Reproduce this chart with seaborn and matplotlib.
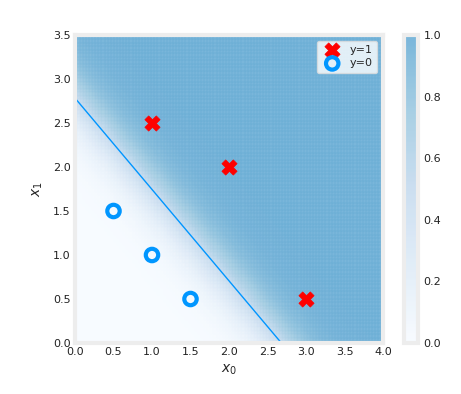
import numpy as np
import matplotlib
matplotlib.use("Agg")
import matplotlib.pyplot as plt
import matplotlib.colors as mcolors
import seaborn as sns
import pandas as pd

# ---- data ----
x0_pos = [1.0, 2.0, 3.0]
x1_pos = [2.5, 2.0, 0.5]
x0_neg = [0.5, 1.0, 1.5]
x1_neg = [1.5, 1.0, 0.5]
w = [4.60, 4.43]
b = -12.33
xticks = [0.0, 0.5, 1.0, 1.5, 2.0, 2.5, 3.0, 3.5, 4.0]
yticks = [0.0, 0.5, 1.0, 1.5, 2.0, 2.5, 3.0, 3.5]
cbticks = [0.0, 0.2, 0.4, 0.6, 0.8, 1.0]

sns.set_style("white")
plt.rcParams['font.family'] = ['DejaVu Sans']

dlblue = '#0096ff'
frame = '#ededed'

fig = plt.figure(figsize=(4.61, 3.94), dpi=100)
W, H = 461, 394
ax = fig.add_axes([75 / W, (H - 343) / H, 308 / W, 308 / H])
cax = fig.add_axes([404 / W, (H - 343) / H, 14 / W, 308 / H])

# probability shading
x0_space = np.linspace(0, 4, 100)
x1_space = np.linspace(0, 4, 100)
g0, g1 = np.meshgrid(x0_space, x1_space)
z = 1 / (1 + np.exp(-(w[0] * g0 + w[1] * g1 + b)))
base = plt.get_cmap('Blues')
cmap = mcolors.LinearSegmentedColormap.from_list('tb', base(np.linspace(0.0, 0.5, 100)))
pcm = ax.pcolormesh(g0, g1, z, norm=mcolors.Normalize(vmin=0, vmax=1),
                    cmap=cmap, shading='nearest', alpha=0.9,
                    edgecolors='face', linewidth=0.3, antialiased=True)
cb = fig.colorbar(pcm, cax=cax)
cb.set_ticks(cbticks)
cb.outline.set_edgecolor(frame)
cb.outline.set_linewidth(3)
cax.tick_params(length=0, labelsize=8, pad=4, colors='#222222')

# decision boundary
bx = [0, -b / w[0]]
by = [-b / w[1], 0]
sns.lineplot(x=bx, y=by, ax=ax, color=dlblue, lw=1, sort=False)

# data points
df_pos = pd.DataFrame({'x0': x0_pos, 'x1': x1_pos})
df_neg = pd.DataFrame({'x0': x0_neg, 'x1': x1_neg})
sns.scatterplot(data=df_pos, x='x0', y='x1', ax=ax, marker='X', s=120,
                color='red', edgecolor='red', linewidth=0.5, label='y=1', zorder=5)
sns.scatterplot(data=df_neg, x='x0', y='x1', ax=ax, marker='o', s=80,
                facecolors='none', edgecolor=dlblue, linewidth=3, label='y=0', zorder=5)

ax.set_xlim(0, 4)
ax.set_ylim(0, 3.5)
ax.set_xticks(xticks)
ax.set_yticks(yticks)
ax.set_xticklabels([f"{t:.1f}" for t in xticks])
ax.set_yticklabels([f"{t:.1f}" for t in yticks])
ax.tick_params(length=0, labelsize=8, colors='#222222', pad=3)
ax.set_xlabel('$x_0$', fontsize=10, labelpad=4)
ax.set_ylabel('$x_1$', fontsize=10, labelpad=6)
for s in ax.spines.values():
    s.set_visible(True)
    s.set_edgecolor(frame)
    s.set_linewidth(3)

leg = ax.legend(loc='upper right', fontsize=8, frameon=True, handletextpad=0.6,
                borderpad=0.4, labelspacing=0.3, framealpha=0.8)
leg.get_frame().set_edgecolor('#dddddd')

fig.savefig('out.png', dpi=100)
